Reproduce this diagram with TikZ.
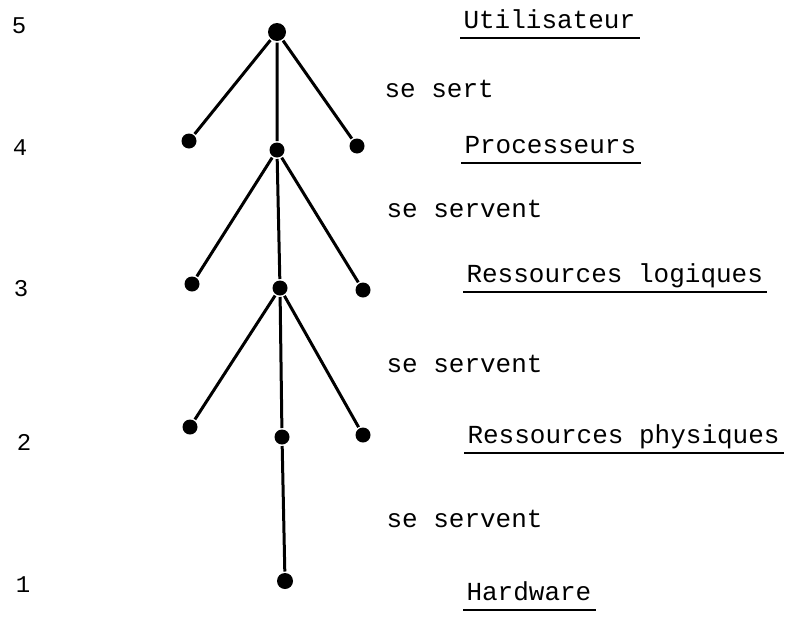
\documentclass[tikz,border=0pt]{standalone}
\usepackage{fontspec}
\setmonofont{Liberation Mono}
\usepackage{tikz}
\usetikzlibrary{positioning}

\tikzset{
  dot/.style={circle,fill=black,inner sep=0pt,minimum size=15pt},
  lvl/.style={font=\ttfamily\fontsize{26}{30}\selectfont,inner sep=0pt,anchor=base west},
  num/.style={font=\ttfamily\fontsize{24}{28}\selectfont,inner sep=0pt},
  ul/.style={line width=1.8pt}
}

\begin{document}
\begin{tikzpicture}[x=1pt,y=-1pt,line width=3pt]
	\useasboundingbox (0,0) rectangle (792,616);
	% points of the tree
	\node[dot,minimum size=18pt] (n5) at (277,32) {};
	\node[dot] (n4l) at (189,141) {};
	\node[dot] (n4) at (277,150) {};
	\node[dot] (n4r) at (357,146) {};
	\node[dot] (n3l) at (192,284) {};
	\node[dot] (n3) at (280,288) {};
	\node[dot] (n3r) at (363,290) {};
	\node[dot] (n2l) at (190,427) {};
	\node[dot] (n2) at (282,437) {};
	\node[dot] (n2r) at (363,435) {};
	\node[dot,minimum size=16pt] (n1) at (285,581) {};

	\draw (n5) -- (n4l);
	\draw (n5) -- (n4r);
	\draw (n5) -- (n4) -- (n3) -- (n2) -- (n1);
	\draw (n4) -- (n3l);
	\draw (n4) -- (n3r);
	\draw (n3) -- (n2l);
	\draw (n3) -- (n2r);

	% level numbers
	\node[num] (l5) at (19,26) {5};
	\node[num] (l4) at (20,148) {4};
	\node[num] (l3) at (21,289) {3};
	\node[num] (l2) at (24,442) {2};
	\node[num] (l1) at (23,585) {1};

	% layers and relations
	\node[lvl] (u) at (462,28) {Utilisateur};
	\node[lvl] (s4) at (383,97) {se sert};
	\node[lvl] (p) at (463,153) {Processeurs};
	\node[lvl] (s3) at (385,217) {se servent};
	\node[lvl] (rl) at (465,282) {Ressources logiques};
	\node[lvl] (s2) at (385,372) {se servent};
	\node[lvl] (rp) at (466,443) {Ressources physiques};
	\node[lvl] (s1) at (385,527) {se servent};
	\node[lvl] (h) at (465,600) {Hardware};

	\draw[ul] ([shift={(-2,10)}]u.base west) -- ([shift={(3,10)}]u.base east);
	\draw[ul] ([shift={(-2,10)}]p.base west) -- ([shift={(3,10)}]p.base east);
	\draw[ul] ([shift={(-2,10)}]rl.base west) -- ([shift={(3,10)}]rl.base east);
	\draw[ul] ([shift={(-2,10)}]rp.base west) -- ([shift={(3,10)}]rp.base east);
	\draw[ul] ([shift={(-2,10)}]h.base west) -- ([shift={(3,10)}]h.base east);
\end{tikzpicture}
\end{document}
